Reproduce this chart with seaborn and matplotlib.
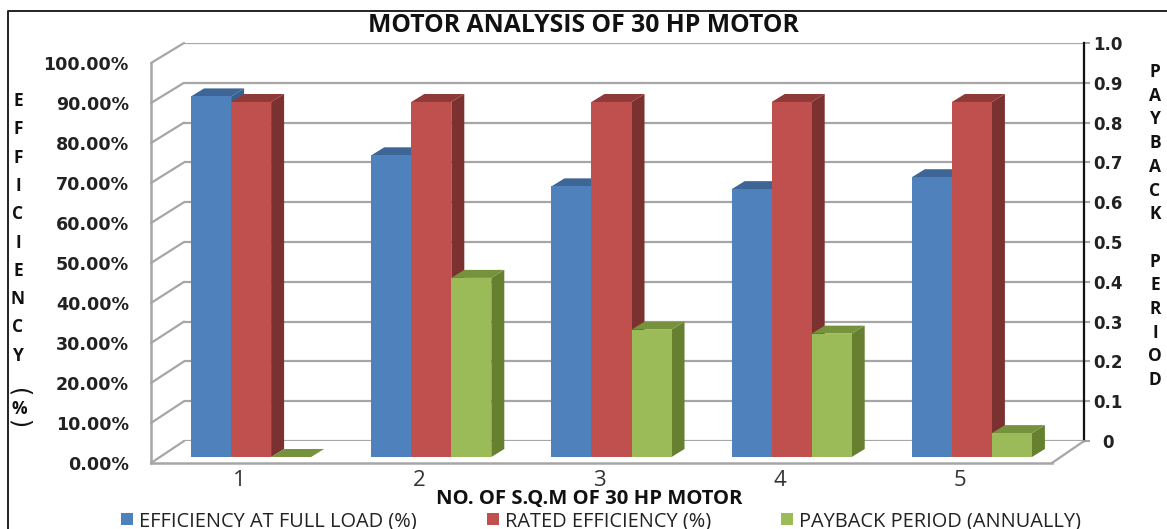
import matplotlib
matplotlib.use("Agg")
from matplotlib import pyplot as plt
from matplotlib.lines import Line2D
from matplotlib.patches import Polygon
from matplotlib.transforms import IdentityTransform
import pandas as pd
import seaborn as sns

W, H = 1167, 529

categories = ["1", "2", "3", "4", "5"]
efficiency = [90.6, 75.8, 68.0, 67.3, 70.3]
rated = [89.2, 89.2, 89.2, 89.2, 89.2]
payback = [0.0, 0.45, 0.32, 0.31, 0.06]

left_ticks = ["0.00%", "10.00%", "20.00%", "30.00%", "40.00%", "50.00%",
              "60.00%", "70.00%", "80.00%", "90.00%", "100.00%"]
right_ticks = ["0", "0.1", "0.2", "0.3", "0.4", "0.5", "0.6", "0.7", "0.8", "0.9", "1.0"]

series_names = ["EFFICIENCY AT FULL LOAD (%)", "RATED EFFICIENCY (%)", "PAYBACK PERIOD (ANNUALLY)"]
front_colors = ["#4f81bd", "#c0504d", "#9bbb59"]
top_colors = ["#3d6595", "#8f3a38", "#76923c"]
side_colors = ["#3a5f8c", "#7b3130", "#66802f"]
GRID = "#a6a6a6"
DEPTH_X, DEPTH_Y = 13, 8


def box(x0, y0, x1, y1):
    # pixel box (y from the top) to figure fractions
    return [x0 / W, 1 - y1 / H, (x1 - x0) / W, (y1 - y0) / H]


def fig_line(xs, ys, **kw):
    fig.add_artist(Line2D([x / W for x in xs], [1 - y / H for y in ys], transform=fig.transFigure, **kw))


sns.set_theme(style="white")
plt.rcParams["font.family"] = ["DejaVu Sans"]

fig = plt.figure(figsize=(W / 100, H / 100), dpi=100)

# back wall, carries the payback axis and the gridlines
wall = fig.add_axes(box(184, 43, 1084, 441))
wall.set_xlim(0, 1)
wall.set_ylim(0, 1)
wall.set_xticks([])
wall.set_yticks([i / 10 for i in range(11)])
wall.set_yticklabels(right_ticks, fontsize=12, fontweight="bold", color="#222222", ha="center", family="DejaVu Sans")
wall.yaxis.tick_right()
wall.tick_params(axis="y", length=4, width=1.5, color=GRID, pad=13)
wall.grid(axis="y", color=GRID, lw=1.6)
for name in ["left", "top", "bottom"]:
    wall.spines[name].set_visible(False)
wall.spines["right"].set_color("#111111")
wall.spines["right"].set_linewidth(1.6)

# front plane, carries the efficiency axis and the category ticks
front = fig.add_axes(box(151, 63, 1052, 463))
front.patch.set_alpha(0)
front.set_xlim(0, 5)
front.set_ylim(0, 100)
front.set_yticks(range(0, 101, 10))
front.set_yticklabels(left_ticks, fontsize=12.6, fontweight="bold", color="#222222", family="DejaVu Sans")
front.set_xticks(range(6))
front.set_xticklabels([])
front.set_xticks([i + 0.49 for i in range(5)], minor=True)
front.set_xticklabels(categories, minor=True, fontsize=16, color="#333333", family="Open Sans")
front.tick_params(axis="both", which="major", length=8, width=1.5, color=GRID, direction="out")
front.tick_params(axis="x", which="minor", length=0, pad=5)
front.tick_params(axis="y", length=8, pad=8)
for name in ["top", "right"]:
    front.spines[name].set_visible(False)
for name in ["left", "bottom"]:
    front.spines[name].set_color(GRID)
    front.spines[name].set_linewidth(1.8)

# diagonals joining the front axis to the back wall
for i in range(11):
    fig_line([151, 184], [463 - 40 * i, 441 - 39.8 * i], color=GRID, lw=1.6)
fig_line([1052, 1084], [463, 441], color=GRID, lw=1.6)

# bars stand in the middle of the floor, slightly behind the front axis
ax = fig.add_axes(box(161, 59, 1062, 457))
ax.patch.set_alpha(0)

df = pd.DataFrame({
    "motor": categories * 3,
    "series": [n for n in series_names for _ in categories],
    "value": efficiency + rated + [p * 100 for p in payback],
})
sns.barplot(data=df, x="motor", y="value", hue="series", hue_order=series_names, order=categories,
            palette=front_colors, width=0.666, gap=0, saturation=1, errorbar=None, linewidth=0, ax=ax)
ax.set_xlim(-0.5, 4.5)
ax.set_ylim(0, 100)
ax.axis("off")
handles, labels = ax.get_legend_handles_labels()
ax.get_legend().remove()
fig.canvas.draw()

# extrude every bar: side and top faces in pixels, behind its own front face
for s, container in enumerate(ax.containers):
    for b, bar in enumerate(container):
        x0, y0 = ax.transData.transform((bar.get_x(), 0))
        x1, y1 = ax.transData.transform((bar.get_x() + bar.get_width(), bar.get_height()))
        z = 3 + b * 10 + s * 2
        side = [(x1, y0), (x1 + DEPTH_X, y0 + DEPTH_Y), (x1 + DEPTH_X, y1 + DEPTH_Y), (x1, y1)]
        top = [(x0, y1), (x0 + DEPTH_X, y1 + DEPTH_Y), (x1 + DEPTH_X, y1 + DEPTH_Y), (x1, y1)]
        ax.add_patch(Polygon(side, closed=True, transform=IdentityTransform(), facecolor=side_colors[s],
                             edgecolor="none", zorder=z, clip_on=False))
        ax.add_patch(Polygon(top, closed=True, transform=IdentityTransform(), facecolor=top_colors[s],
                             edgecolor="none", zorder=z, clip_on=False))
        bar.set_zorder(z + 1)
ax.set_xlim(-0.5, 4.5)
ax.set_ylim(0, 100)

fig.text(583 / W, 1 - 26 / H, "MOTOR ANALYSIS OF 30 HP MOTOR", ha="center", va="center",
         fontsize=17.8, fontweight="bold", family="Open Sans", color="#111111")
fig.text(589 / W, 1 - 499 / H, "NO. OF S.Q.M OF 30 HP MOTOR", ha="center", va="center",
         fontsize=14.6, fontweight="bold", family="Open Sans", color="#111111")

# letters stacked down both sides
for i, ch in enumerate("EFFICIENCY"):
    fig.text(18 / W, 1 - (101 + 28.3 * i) / H, ch, ha="center", va="center", fontsize=12.5,
             fontweight="bold", family="Open Sans", color="#111111")
fig.text(19 / W, 1 - 409 / H, "%", ha="center", va="center", fontsize=12.5, fontweight="bold",
         family="Open Sans", color="#111111")
fig.text(19 / W, 1 - 393 / H, "(", rotation=-90, ha="center", va="center", fontsize=17, color="#111111")
fig.text(19 / W, 1 - 424 / H, ")", rotation=-90, ha="center", va="center", fontsize=17, color="#111111")
for i, ch in enumerate("PAYBACK PERIOD"):
    if ch != " ":
        fig.text(1155 / W, 1 - (72 + 23.7 * i) / H, ch, ha="center", va="center", fontsize=12.5,
                 fontweight="bold", family="Open Sans", color="#111111")

# chart frame, open on the right and bottom
fig_line([1167, 8, 8], [11, 11, 529], color="#222222", lw=1.4)

fig.legend(handles, labels, loc="center", bbox_to_anchor=(601 / W, 1 - 521 / H), ncol=3, frameon=False,
           prop={"family": "Open Sans", "size": 14.4}, handlelength=0.6, handleheight=0.6,
           columnspacing=3.5, handletextpad=0.3, borderpad=0, labelcolor="#222222")

fig.savefig("out.png", dpi=100)
